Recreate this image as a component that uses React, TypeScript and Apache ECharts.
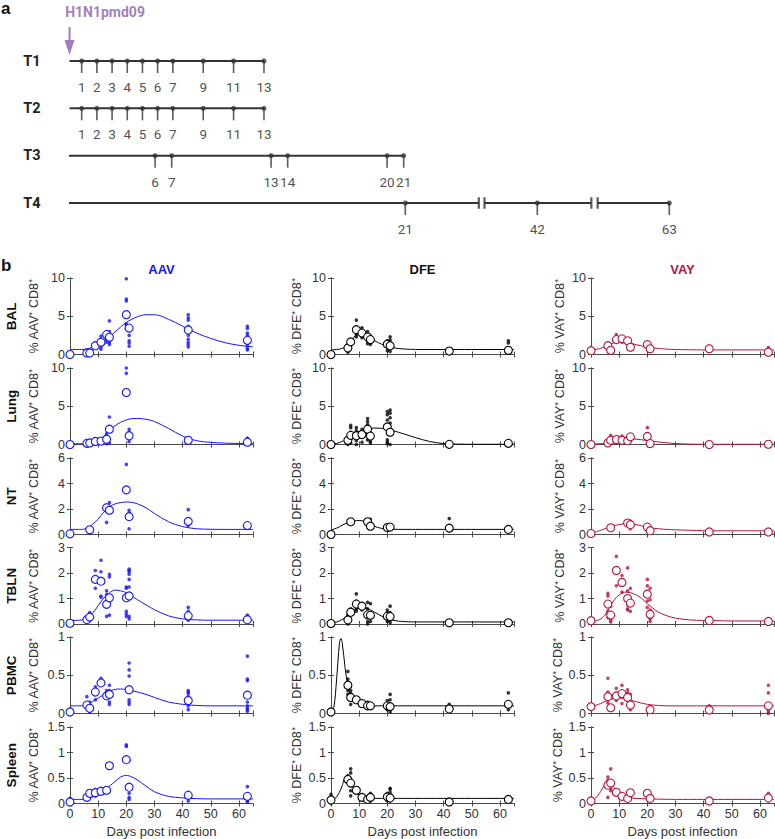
import React, { useEffect, useRef } from "react";
import * as echarts from "echarts";

// ---------- DATA ----------
const curveDays = [0, 1, 2, 3, 3.5, 4, 5, 6, 7, 8, 9, 10, 12, 14, 16, 18, 20, 22, 24, 27, 30, 35, 40, 45, 50, 55, 60, 65];

// AAV
const aavBalCurve = [0.65, 0.65, 0.65, 0.65, 0.65, 0.65, 0.67, 0.72, 0.82, 0.97, 1.15, 1.4, 1.85, 2.3, 2.95, 3.6, 4.2, 4.6, 4.95, 5.2, 5.2, 4.6, 3.7, 2.8, 2.1, 1.55, 1.2, 1.0];
const aavLungCurve = [0.1, 0.1, 0.1, 0.1, 0.1, 0.1, 0.1, 0.12, 0.17, 0.25, 0.38, 0.55, 1.05, 1.85, 2.45, 2.9, 3.2, 3.38, 3.4, 3.3, 3.0, 2.1, 1.1, 0.5, 0.28, 0.18, 0.14, 0.12];
const aavNtCurve = [0.4, 0.4, 0.4, 0.4, 0.4, 0.4, 0.42, 0.5, 0.62, 0.8, 1.0, 1.2, 1.75, 2.15, 2.4, 2.5, 2.55, 2.52, 2.4, 2.1, 1.65, 1.0, 0.62, 0.45, 0.41, 0.4, 0.4, 0.4];
const aavTblnCurve = [0.14, 0.14, 0.14, 0.15, 0.15, 0.16, 0.18, 0.22, 0.3, 0.42, 0.56, 0.72, 1.02, 1.22, 1.33, 1.3, 1.23, 1.1, 0.95, 0.75, 0.56, 0.32, 0.2, 0.16, 0.15, 0.15, 0.15, 0.15];
const aavPbmcCurve = [0.1, 0.1, 0.1, 0.1, 0.1, 0.1, 0.105, 0.115, 0.13, 0.155, 0.18, 0.2, 0.25, 0.29, 0.315, 0.32, 0.315, 0.3, 0.28, 0.25, 0.21, 0.15, 0.12, 0.105, 0.1, 0.1, 0.1, 0.1];
const aavSpleenCurve = [0.08, 0.08, 0.08, 0.08, 0.08, 0.08, 0.085, 0.09, 0.11, 0.13, 0.16, 0.19, 0.26, 0.34, 0.43, 0.52, 0.55, 0.52, 0.46, 0.34, 0.23, 0.14, 0.11, 0.095, 0.09, 0.09, 0.09, 0.09];

const aavBalMeans = [[0, 0], [6, 0.2], [7, 0.2], [9, 1.15], [11, 1.6], [13, 2.6], [14, 2.25], [20, 5.2], [21, 3.45], [42, 3.2], [63, 1.85]];
const aavLungMeans = [[0, 0], [6, 0.15], [7, 0.2], [9, 0.4], [11, 0.45], [13, 0.7], [14, 2.0], [20, 6.8], [21, 1.15], [42, 0.55], [63, 0.3]];
const aavNtMeans = [[0, 0.05], [7, 0.37], [13, 2.1], [14, 1.9], [20, 3.5], [21, 1.4], [42, 1.03], [63, 0.7]];
const aavTblnMeans = [[0, 0.03], [6, 0.17], [7, 0.27], [9, 1.75], [11, 1.68], [13, 0.77], [14, 1.03], [20, 1.03], [21, 1.1], [42, 0.32], [63, 0.17]];
const aavPbmcMeans = [[0, 0.02], [6, 0.11], [7, 0.07], [9, 0.28], [11, 0.4], [13, 0.23], [14, 0.25], [21, 0.31], [42, 0.17], [63, 0.24]];
const aavSpleenMeans = [[0, 0.03], [6, 0.12], [7, 0.2], [9, 0.21], [11, 0.24], [13, 0.26], [14, 0.74], [20, 0.86], [21, 0.32], [42, 0.16], [63, 0.14]];

const aavBalDots = [[9, [1.0, 1.3, 1.5]], [11, [2.4, 1.5, 1.0, 0.7]], [13, [3.0, 2.7, 2.0, 1.6]], [14, [4.4, 3.0, 2.0, 1.6, 1.3]], [20, [9.9, 7.0, 7.25, 5.2, 4.0, 3.8, 3.4]], [21, [3.3, 2.5, 1.8, 1.5, 1.1]], [42, [5.2, 4.8, 4.5, 3.7, 3.0, 2.5, 2.0, 1.6, 1.3, 1.0]], [63, [3.7, 3.4, 2.8, 2.5, 1.8, 1.2, 0.8, 0.6]]];
const aavLungDots = [[13, [1.4, 1.0, 0.2, 0.1]], [14, [3.6, 2.0, 0.2]], [20, [10, 9.3]], [21, [2.0, 1.6, 0.4]], [63, [0.85, 0.5]]];
const aavNtDots = [[13, [2.3, 2.2, 0.95]], [14, [2.5]], [20, [5.5]], [21, [1.9, 1.7, 0.45]], [42, [1.95, 0.7]], [63, [0.5, 0.6]]];
const aavTblnDots = [[7, [0.45]], [9, [2.1, 1.4]], [11, [2.5, 2.05, 1.1, 1.05]], [13, [1.3, 1.15, 0.3]], [14, [1.95, 1.85, 0.8, 0.35]], [20, [1.45, 1.4, 0.5, 0.4, 0.3]], [21, [2.15, 2.1, 2.05, 1.95, 1.75, 1.45, 0.3, 0.2]], [42, [0.65, 0.5, 0.4, 0.25, 0.15]], [63, [0.35, 0.3, 0.25]]];
const aavPbmcDots = [[6, [0.22]], [7, [0.15, 0.02]], [9, [0.35, 0.18]], [11, [0.46, 0.43]], [13, [0.3, 0.2]], [14, [0.37, 0.3, 0.15, 0.12]], [21, [0.66, 0.57, 0.49, 0.35, 0.18, 0.15, 0.12]], [42, [0.3, 0.28, 0.26, 0.22, 0.2, 0.1, 0.05]], [63, [0.75, 0.45, 0.43, 0.15, 0.1, 0.07, 0.05, 0.03]]];
const aavSpleenDots = [[0, [0.1, 0.0]], [7, [0.15]], [9, [0.28, 0.25, 0.15]], [11, [0.3]], [20, [1.15, 1.12]], [21, [0.85, 0.2, 0.12, 0.08]], [42, [0.22, 0.2, 0.1, 0.05]], [63, [0.33, 0.05, 0.03]]];

// DFE
const dfeBalCurve = [0.6, 0.62, 0.65, 0.7, 0.75, 0.8, 0.95, 1.15, 1.6, 2.2, 2.6, 2.8, 2.55, 2.1, 1.7, 1.35, 1.08, 0.9, 0.78, 0.7, 0.66, 0.65, 0.65, 0.65, 0.65, 0.65, 0.65, 0.65];
const dfeLungCurve = [0.05, 0.08, 0.14, 0.25, 0.32, 0.4, 0.6, 0.85, 1.05, 1.3, 1.5, 1.7, 1.95, 2.1, 2.15, 2.12, 2.0, 1.8, 1.6, 1.25, 0.9, 0.4, 0.12, 0.05, 0.03, 0.03, 0.03, 0.03];
const dfeNtCurve = [0.37, 0.42, 0.5, 0.6, 0.67, 0.73, 0.83, 0.92, 1.0, 1.05, 1.08, 1.1, 1.02, 0.8, 0.6, 0.48, 0.43, 0.41, 0.4, 0.4, 0.4, 0.4, 0.4, 0.4, 0.4, 0.4, 0.4, 0.4];
const dfeTblnCurve = [0.05, 0.06, 0.08, 0.12, 0.15, 0.18, 0.24, 0.31, 0.42, 0.52, 0.59, 0.64, 0.64, 0.55, 0.43, 0.31, 0.21, 0.15, 0.11, 0.09, 0.08, 0.08, 0.08, 0.08, 0.08, 0.08, 0.08, 0.08];
const dfePbmcCurve = [0.02, 0.08, 0.45, 0.92, 0.98, 0.92, 0.6, 0.36, 0.23, 0.17, 0.14, 0.12, 0.11, 0.1, 0.1, 0.1, 0.1, 0.1, 0.1, 0.1, 0.1, 0.1, 0.1, 0.1, 0.1, 0.1, 0.1, 0.1];
const dfeSpleenCurve = [0.06, 0.08, 0.13, 0.22, 0.28, 0.35, 0.49, 0.47, 0.38, 0.3, 0.23, 0.17, 0.11, 0.1, 0.1, 0.1, 0.1, 0.1, 0.1, 0.1, 0.1, 0.1, 0.1, 0.1, 0.1, 0.1, 0.1, 0.1];

const dfeBalMeans = [[0, 0], [6, 0.85], [7, 1.65], [9, 3.25], [11, 2.8], [13, 2.3], [14, 1.95], [20, 1.35], [21, 1.15], [42, 0.45], [63, 0.55]];
const dfeLungMeans = [[0, 0], [6, 0.55], [7, 1.2], [9, 1.15], [11, 1.3], [13, 2.0], [14, 1.1], [20, 2.3], [21, 1.6], [42, 0.02], [63, 0.15]];
const dfeNtMeans = [[0, 0], [7, 1.0], [13, 1.0], [14, 0.65], [20, 0.55], [21, 0.58], [42, 0.5], [63, 0.4]];
const dfeTblnMeans = [[0, 0.02], [6, 0.16], [7, 0.46], [9, 0.78], [11, 0.7], [13, 0.36], [14, 0.34], [20, 0.3], [21, 0.29], [42, 0.05], [63, 0.05]];
const dfePbmcMeans = [[0, 0.02], [6, 0.37], [7, 0.21], [9, 0.18], [11, 0.13], [13, 0.1], [14, 0.1], [20, 0.1], [21, 0.09], [42, 0.06], [63, 0.12]];
const dfeSpleenMeans = [[0, 0.07], [6, 0.47], [7, 0.4], [9, 0.26], [11, 0.12], [13, 0.08], [14, 0.12], [20, 0.13], [21, 0.11], [42, 0.03], [63, 0.08]];

const dfeBalDots = [[6, [1.3, 0.5, 0.3]], [7, [1.9, 1.2]], [9, [4.5, 3.0, 2.6, 2.3]], [11, [3.5, 2.6, 2.2]], [13, [3.0, 2.4, 1.7, 1.4]], [14, [2.4, 1.6, 1.3]], [20, [1.8, 1.0, 0.5]], [21, [2.3, 1.9, 0.8, 0.4]], [63, [1.8, 1.5]]];
const dfeLungDots = [[6, [0.2, 0.0]], [7, [2.5, 2.2, 1.6, 0.8, 0.2]], [9, [2.2, 1.8, 0.5, 0.0]], [11, [2.0, 1.5, 0.3]], [13, [3.4, 3.0, 2.6, 1.5, 0.6]], [14, [0.4, 0.2]], [20, [4.3, 3.9, 3.2, 2.6, 0.6, 0.3, 0.1]], [21, [4.5, 4.1, 3.5, 2.8, 1.9, 0.0]], [63, [0.3]]];
const dfeNtDots = [[13, [0.95]], [14, [1.2, 0.7]], [42, [1.25, 0.3, 0.4]], [63, [0.55, 0.3]]];
const dfeTblnDots = [[6, [0.35, 0.2, 0.0]], [7, [0.6, 0.55]], [9, [1.18, 0.9, 0.6, 0.5]], [11, [0.8, 0.55]], [13, [0.85, 0.6, 0.1, 0.0]], [14, [0.8, 0.3, 0.1]], [20, [0.55, 0.45, 0.1]], [21, [0.7, 0.45, 0.15, 0.05]]];
const dfePbmcDots = [[6, [0.55, 0.45, 0.3, 0.25]], [7, [0.3, 0.26, 0.22, 0.12]], [9, [0.2, 0.15]], [11, [0.12]], [13, [0.15]], [14, [0.12]], [20, [0.17, 0.05]], [21, [0.25, 0.18, 0.02]], [42, [0.12, 0.03]], [63, [0.27, 0.05]]];
const dfeSpleenDots = [[0, [0.18, 0.0]], [6, [0.55, 0.5, 0.45]], [7, [0.68, 0.6, 0.35, 0.25, 0.15]], [9, [0.3, 0.2]], [11, [0.1]], [14, [0.2, 0.05]], [20, [0.2, 0.05]], [21, [0.3, 0.28, 0.22, 0.05]], [63, [0.1, 0.05]]];

// VAY
const vayBalCurve = [0.55, 0.6, 0.68, 0.78, 0.83, 0.88, 1.0, 1.15, 1.35, 1.52, 1.67, 1.75, 1.72, 1.5, 1.28, 1.12, 0.99, 0.88, 0.79, 0.7, 0.65, 0.62, 0.6, 0.6, 0.6, 0.6, 0.6, 0.6];
const vayLungCurve = [0.05, 0.06, 0.08, 0.1, 0.11, 0.13, 0.18, 0.25, 0.33, 0.42, 0.5, 0.58, 0.67, 0.72, 0.7, 0.62, 0.52, 0.42, 0.33, 0.22, 0.12, 0.05, 0.03, 0.03, 0.03, 0.03, 0.03, 0.03];
const vayNtCurve = [0.1, 0.16, 0.23, 0.3, 0.34, 0.38, 0.45, 0.55, 0.62, 0.68, 0.73, 0.78, 0.84, 0.84, 0.78, 0.67, 0.57, 0.5, 0.45, 0.4, 0.37, 0.33, 0.3, 0.29, 0.29, 0.29, 0.29, 0.29];
const vayTblnCurve = [0.1, 0.11, 0.13, 0.17, 0.2, 0.24, 0.35, 0.55, 0.72, 0.9, 1.04, 1.14, 1.25, 1.23, 1.14, 1.0, 0.8, 0.62, 0.46, 0.32, 0.23, 0.16, 0.14, 0.13, 0.12, 0.12, 0.12, 0.12];
const vayPbmcCurve = [0.09, 0.1, 0.11, 0.125, 0.13, 0.14, 0.16, 0.175, 0.185, 0.193, 0.198, 0.2, 0.195, 0.175, 0.155, 0.135, 0.12, 0.11, 0.105, 0.1, 0.1, 0.1, 0.1, 0.1, 0.1, 0.1, 0.1, 0.1];
const vaySpleenCurve = [0.05, 0.08, 0.13, 0.2, 0.24, 0.29, 0.38, 0.42, 0.39, 0.32, 0.28, 0.22, 0.15, 0.11, 0.1, 0.095, 0.09, 0.088, 0.085, 0.083, 0.08, 0.08, 0.08, 0.08, 0.08, 0.08, 0.08, 0.08];

const vayBalMeans = [[0, 0.5], [6, 1.15], [7, 0.55], [9, 1.95], [11, 2.05], [13, 1.8], [14, 0.95], [20, 1.3], [21, 0.75], [42, 0.75], [63, 0.3]];
const vayLungMeans = [[0, 0], [6, 0.2], [7, 0.55], [9, 0.65], [11, 0.55], [13, 0.5], [14, 1.0], [20, 1.05], [21, 0.12], [42, 0], [63, 0.03]];
const vayNtMeans = [[0, 0.08], [7, 0.53], [13, 0.9], [14, 0.77], [20, 0.58], [21, 0.3], [42, 0.2], [63, 0.2]];
const vayTblnMeans = [[0, 0.13], [6, 0.78], [7, 0.35], [9, 2.1], [11, 1.63], [13, 1.0], [14, 0.82], [20, 1.17], [21, 0.38], [42, 0.14], [63, 0.1]];
const vayPbmcMeans = [[0, 0.09], [6, 0.22], [7, 0.075], [9, 0.23], [11, 0.26], [13, 0.21], [14, 0.11], [21, 0.05], [42, 0.045], [63, 0.1]];
const vaySpleenMeans = [[0, 0.05], [6, 0.36], [7, 0.4], [9, 0.22], [11, 0.14], [13, 0.1], [14, 0.21], [20, 0.2], [21, 0.1], [42, 0.05], [63, 0.11]];

const vayBalDots = [[9, [2.6, 1.7]], [11, [1.6]], [13, [2.0, 1.5]], [42, [1.1]], [63, [0.9, 0.6]]];
const vayLungDots = [[7, [1.2]], [9, [0.9]], [11, [1.1, 0.9, 0.2]], [13, [0.8, 0.4]], [20, [2.2]]];
const vayNtDots = [[7, [0.7]], [13, [1.0]], [14, [1.05, 0.45]], [20, [0.65]]];
const vayTblnDots = [[6, [1.2, 1.1, 0.5, 0.4, 0.25]], [7, [0.7, 0.45, 0.15, 0.08]], [9, [2.65, 1.5]], [11, [1.9, 1.25]], [13, [2.2, 1.3, 0.75, 0.6, 0.55]], [14, [1.4, 0.5]], [20, [1.75, 1.5, 0.9, 0.65]], [21, [1.4, 0.95, 0.55, 0.2, 0.1]]];
const vayPbmcDots = [[6, [0.46, 0.28, 0.18, 0.14]], [7, [0.1]], [9, [0.33, 0.2, 0.17]], [11, [0.37, 0.25, 0.13]], [13, [0.31, 0.27, 0.18]], [14, [0.25, 0.05]], [42, [0.1]], [63, [0.37, 0.27, 0.05, 0.02, 0.0]]];
const vaySpleenDots = [[6, [0.52, 0.46, 0.12]], [7, [0.68, 0.3, 0.25]], [9, [0.2]], [63, [0.2, 0.05]]];

const rowNames = ["BAL", "Lung", "NT", "TBLN", "PBMC", "Spleen"];
const yMax = [10, 10, 6, 3, 1, 1.5];
const yStep = [5, 5, 2, 1, 0.5, 0.5];
const colNames = ["AAV", "DFE", "VAY"];
const xTickLabels = [0, 10, 20, 30, 40, 50, 60];

// Timeline
const timelineRows = ["T1", "T2", "T3", "T4"];
const t1Days = [1, 2, 3, 4, 5, 6, 7, 9, 11, 13];
const t2Days = [1, 2, 3, 4, 5, 6, 7, 9, 11, 13];
const t3Days = [6, 7, 13, 14, 20, 21];
const t4Days = [21, 42, 63];
const lineStart = [0.2, 0.2, 0.8, 0.8];
const lineEnd = [13, 13, 21, 63];
const t4Breaks = [[32.7, 33.6], [50.6, 51.6]];

// ---------- STYLE / LAYOUT ----------
const FONT = '"Liberation Sans", Arial, Helvetica, sans-serif';
const TFONT = "Roboto, Arial, sans-serif";
const colColors = ["#1414ff", "#000000", "#b3143c"];
const colLeft = [70, 331, 591];
const rowTop = [278, 368, 458, 547.5, 637, 727];
const PW = 183;
const PH = 76.5;
const nameGaps = [30, 28, 25];
const AX = "#4a4a4a";
const PURPLE = "#8b5ca9";

const panelData: any[][] = [
  [
    { curve: aavBalCurve, means: aavBalMeans, dots: aavBalDots },
    { curve: aavLungCurve, means: aavLungMeans, dots: aavLungDots },
    { curve: aavNtCurve, means: aavNtMeans, dots: aavNtDots },
    { curve: aavTblnCurve, means: aavTblnMeans, dots: aavTblnDots },
    { curve: aavPbmcCurve, means: aavPbmcMeans, dots: aavPbmcDots },
    { curve: aavSpleenCurve, means: aavSpleenMeans, dots: aavSpleenDots },
  ],
  [
    { curve: dfeBalCurve, means: dfeBalMeans, dots: dfeBalDots },
    { curve: dfeLungCurve, means: dfeLungMeans, dots: dfeLungDots },
    { curve: dfeNtCurve, means: dfeNtMeans, dots: dfeNtDots },
    { curve: dfeTblnCurve, means: dfeTblnMeans, dots: dfeTblnDots },
    { curve: dfePbmcCurve, means: dfePbmcMeans, dots: dfePbmcDots },
    { curve: dfeSpleenCurve, means: dfeSpleenMeans, dots: dfeSpleenDots },
  ],
  [
    { curve: vayBalCurve, means: vayBalMeans, dots: vayBalDots },
    { curve: vayLungCurve, means: vayLungMeans, dots: vayLungDots },
    { curve: vayNtCurve, means: vayNtMeans, dots: vayNtDots },
    { curve: vayTblnCurve, means: vayTblnMeans, dots: vayTblnDots },
    { curve: vayPbmcCurve, means: vayPbmcMeans, dots: vayPbmcDots },
    { curve: vaySpleenCurve, means: vaySpleenMeans, dots: vaySpleenDots },
  ],
];

function buildOption() {
  const grid: any[] = [];
  const xAxis: any[] = [];
  const yAxis: any[] = [];
  const series: any[] = [];
  const graphic: any[] = [];

  const boxAxis = (extra: any) => ({
    axisLine: { show: true, lineStyle: { color: AX, width: 1 } },
    axisTick: { show: true, inside: true, length: 3, lineStyle: { color: AX } },
    splitLine: { show: false },
    ...extra,
  });

  for (let c = 0; c < 3; c++) {
    for (let r = 0; r < 6; r++) {
      const gi = grid.length;
      grid.push({ left: colLeft[c], top: rowTop[r], width: PW, height: PH });
      const last = r === 5;
      xAxis.push(
        boxAxis({
          type: "value",
          gridIndex: gi,
          min: 0,
          max: 65,
          interval: 10,
          position: "bottom",
          axisLabel: {
            show: last,
            showMaxLabel: false,
            fontSize: 12.5,
            color: "#333",
            fontFamily: FONT,
            margin: 4,
            formatter: (v: number) => (xTickLabels.indexOf(v) >= 0 ? String(v) : ""),
          },
          name: last ? "Days post infection" : "",
          nameLocation: "middle",
          nameGap: 21,
          nameTextStyle: { fontSize: 13, color: "#333", fontFamily: FONT },
        })
      );
      xAxis.push(
        boxAxis({
          type: "value",
          gridIndex: gi,
          min: 0,
          max: 65,
          interval: 10,
          position: "top",
          axisLabel: { show: false },
        })
      );
      yAxis.push(
        boxAxis({
          type: "value",
          gridIndex: gi,
          min: 0,
          max: yMax[r],
          interval: yStep[r],
          position: "left",
          axisLabel: { fontSize: 12.5, color: "#333", fontFamily: FONT, margin: 5 },
          name: `% ${colNames[c]}⁺ CD8⁺`,
          nameLocation: "middle",
          nameRotate: 90,
          nameGap: nameGaps[c],
          nameTextStyle: { fontSize: 12.5, color: "#333", fontFamily: FONT },
        })
      );
      yAxis.push(
        boxAxis({
          type: "value",
          gridIndex: gi,
          min: 0,
          max: yMax[r],
          interval: yStep[r],
          position: "right",
          axisLabel: { show: false },
        })
      );
      const p = panelData[c][r];
      const color = colColors[c];
      series.push({
        type: "line",
        xAxisIndex: 2 * gi,
        yAxisIndex: 2 * gi,
        data: curveDays.map((d, i) => [d, p.curve[i]]),
        smooth: 0.35,
        showSymbol: false,
        symbol: "none",
        lineStyle: { color, width: 1 },
        silent: true,
        z: 2,
      });
      const dots: number[][] = [];
      p.dots.forEach(([d, vals]: [number, number[]]) => vals.forEach((v) => dots.push([d, v])));
      series.push({
        type: "scatter",
        xAxisIndex: 2 * gi,
        yAxisIndex: 2 * gi,
        data: dots,
        symbolSize: 3.6,
        itemStyle: { color },
        clip: false,
        z: 3,
      });
      series.push({
        type: "scatter",
        xAxisIndex: 2 * gi,
        yAxisIndex: 2 * gi,
        data: p.means,
        symbolSize: 8,
        itemStyle: { color: "#ffffff", borderColor: color, borderWidth: 1.1, opacity: 1 },
        clip: false,
        z: 4,
      });
    }
  }

  // column titles
  colNames.forEach((n, c) => {
    graphic.push({
      type: "text",
      x: colLeft[c] + PW / 2,
      y: 269,
      style: {
        text: n,
        fill: colColors[c] === "#000000" ? "#111" : colColors[c],
        font: `bold 13px ${FONT}`,
        textAlign: "center",
        textVerticalAlign: "middle",
      },
    });
  });
  // row labels
  rowNames.forEach((n, r) => {
    graphic.push({
      type: "text",
      x: 11,
      y: rowTop[r] + PH / 2,
      rotation: Math.PI / 2,
      style: {
        text: n,
        fill: "#111",
        font: `bold 13.5px ${FONT}`,
        textAlign: "center",
        textVerticalAlign: "middle",
      },
    });
  });
  graphic.push({ type: "text", x: 1, y: 0, style: { text: "a", fill: "#111", font: `bold 17px ${FONT}` } });
  graphic.push({ type: "text", x: 1, y: 257, style: { text: "b", fill: "#111", font: `bold 17px ${FONT}` } });

  // ---------- timeline ----------
  const tlTop = 61;
  const tlH = 142;
  const tlGrids = [
    { left: 66.5, width: 15.19 * 25, min: 0, max: 25 },
    { left: 55.7, width: 16.57 * 25, min: 0, max: 25 },
    { left: 405.3, width: 264, min: 21, max: 63 },
  ];
  tlGrids.forEach((g, k) => {
    const gi = grid.length;
    grid.push({ left: g.left, top: tlTop, width: g.width, height: tlH });
    xAxis.push({ type: "value", gridIndex: gi, min: g.min, max: g.max, show: false });
    yAxis.push({
      type: "category",
      gridIndex: gi,
      data: timelineRows,
      inverse: true,
      boundaryGap: false,
      show: k === 0,
      axisLine: { show: false },
      axisTick: { show: false },
      splitLine: { show: false },
      axisLabel: { fontSize: 14.5, fontWeight: "bold", color: "#222", fontFamily: TFONT, margin: 26 },
    });
  });
  const axisIdxOf = (k: number) => ({ xAxisIndex: xAxis.length - 3 + k, yAxisIndex: yAxis.length - 3 + k });

  const lineSeg = (k: number, row: number, a: number, b: number) =>
    series.push({
      type: "line",
      ...axisIdxOf(k),
      data: [[a, row], [b, row]],
      showSymbol: false,
      symbol: "none",
      lineStyle: { color: "#333", width: 2 },
      silent: true,
      z: 2,
    });
  lineSeg(0, 0, lineStart[0], lineEnd[0]);
  lineSeg(0, 1, lineStart[1], lineEnd[1]);
  lineSeg(1, 2, lineStart[2], lineEnd[2]);
  lineSeg(1, 3, lineStart[3], t4Days[0]);
  lineSeg(2, 3, t4Days[0], t4Breaks[0][0]);
  lineSeg(2, 3, t4Breaks[0][1], t4Breaks[1][0]);
  lineSeg(2, 3, t4Breaks[1][1], lineEnd[3]);

  const pointsRow = (k: number, row: number, days: number[]) => {
    const data = days.map((d) => [d, row]);
    series.push({
      type: "scatter",
      ...axisIdxOf(k),
      data,
      symbol: "rect",
      symbolSize: [1.6, 12],
      symbolOffset: [0, 6],
      itemStyle: { color: "#333" },
      silent: true,
      z: 3,
    });
    series.push({
      type: "scatter",
      ...axisIdxOf(k),
      data,
      symbol: "circle",
      symbolSize: 5,
      itemStyle: { color: "#333" },
      silent: true,
      z: 4,
      label: {
        show: true,
        position: "bottom",
        distance: 16.5,
        formatter: (p: any) => String(p.value[0]),
        fontSize: 13.5,
        color: "#222",
        fontFamily: TFONT,
      },
    });
  };
  pointsRow(0, 0, t1Days);
  pointsRow(0, 1, t2Days);
  pointsRow(1, 2, t3Days);
  pointsRow(2, 3, t4Days);

  // break marks
  series.push({
    type: "scatter",
    ...axisIdxOf(2),
    data: t4Breaks.flat().map((d) => [d, 3]),
    symbol: "rect",
    symbolSize: [2.2, 11.5],
    itemStyle: { color: "#333" },
    silent: true,
    z: 5,
  });

  // infection arrow + label
  series.push({
    type: "scatter",
    ...axisIdxOf(0),
    data: [[lineStart[0], 0]],
    symbol: "path://M4,0 L6,0 L6,13 L10,13 L5,28 L0,13 L4,13 Z",
    symbolSize: [10, 28],
    symbolKeepAspect: false,
    symbolOffset: [0, -20],
    itemStyle: { color: PURPLE },
    silent: true,
    z: 5,
    label: {
      show: true,
      position: "inside",
      offset: [35.5, -29],
      formatter: "H1N1pmd09",
      fontSize: 14,
      fontWeight: "bold",
      color: PURPLE,
      fontFamily: TFONT,
    },
  });

  return {
    animation: false,
    backgroundColor: "#ffffff",
    grid,
    xAxis,
    yAxis,
    series,
    graphic,
  };
}

export default function App() {
  const ref = useRef<HTMLDivElement>(null);
  useEffect(() => {
    if (!ref.current) return;
    const chart = echarts.init(ref.current, undefined, { renderer: "svg" });
    chart.setOption(buildOption() as any);
    return () => chart.dispose();
  }, []);
  return (
    <div
      ref={ref}
      style={{ position: "absolute", left: 0, top: 0, width: 775, height: 839, background: "#fff" }}
    />
  );
}
